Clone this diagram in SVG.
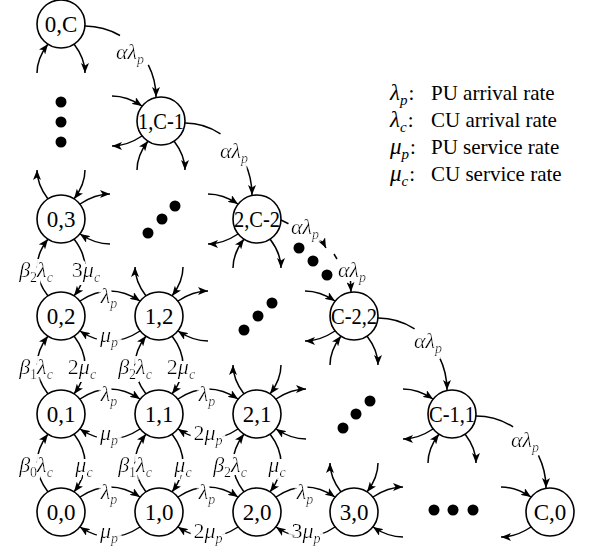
<svg xmlns="http://www.w3.org/2000/svg" width="590" height="552" viewBox="0 0 590 552">
<defs>
<marker id="ah" viewBox="0 0 10 8" refX="10" refY="4" markerWidth="10" markerHeight="8" markerUnits="userSpaceOnUse" orient="auto"><path d="M0,0 L10,4 L0,8 L2.5,4 z" fill="#000"/></marker>
<filter id="halo" x="-30%" y="-40%" width="160%" height="180%">
<feMorphology in="SourceAlpha" operator="dilate" radius="4 3" result="d"/>
<feFlood flood-color="#fff"/>
<feComposite in2="d" operator="in" result="w"/>
<feMerge><feMergeNode in="w"/><feMergeNode in="SourceGraphic"/></feMerge>
</filter>
<style>
.ln{fill:none;stroke:#000;stroke-width:1.5}
.ar{marker-end:url(#ah)}
.nd circle{fill:#fff;stroke:#000;stroke-width:1.6}
.nd text{font-family:"Liberation Serif","Times New Roman",serif;font-size:23px;text-anchor:middle;fill:#000}
.lb{font-family:"Liberation Serif","Times New Roman",serif;font-size:22px;text-anchor:middle;fill:#000;filter:url(#halo)}
.lg{font-family:"Liberation Serif","Times New Roman",serif;font-size:21px;fill:#000}
.i{font-style:italic}
.g{font-size:23px}
.s{font-size:14px}
.s2{font-size:15px}
.dot{fill:#000}
</style>
</defs>
<rect width="590" height="552" fill="#fff"/>
<g id="connectors">
<path class="ln ar" d="M80,301 Q110,281 140,301"/>
<path class="ln ar" d="M140,331 Q110,351 80,331"/>
<path class="ln ar" d="M80,399 Q110,379 140,399"/>
<path class="ln ar" d="M140,429 Q110,449 80,429"/>
<path class="ln ar" d="M178,399 Q208,379 238,399"/>
<path class="ln ar" d="M238,429 Q208,449 178,429"/>
<path class="ln ar" d="M80,497 Q110,477 140,497"/>
<path class="ln ar" d="M140,527 Q110,547 80,527"/>
<path class="ln ar" d="M178,497 Q208,477 238,497"/>
<path class="ln ar" d="M238,527 Q208,547 178,527"/>
<path class="ln ar" d="M276,497 Q305.5,477 335,497"/>
<path class="ln ar" d="M335,527 Q305.5,547 276,527"/>
<path class="ln ar" d="M48,492 Q26,463 48,434"/>
<path class="ln ar" d="M74,434 Q96,463 74,492"/>
<path class="ln ar" d="M48,394 Q26,365 48,336"/>
<path class="ln ar" d="M74,336 Q96,365 74,394"/>
<path class="ln ar" d="M48,296 Q26,267.5 48,239"/>
<path class="ln ar" d="M74,239 Q96,267.5 74,296"/>
<path class="ln ar" d="M146,492 Q124,463 146,434"/>
<path class="ln ar" d="M172,434 Q194,463 172,492"/>
<path class="ln ar" d="M146,394 Q124,365 146,336"/>
<path class="ln ar" d="M172,336 Q194,365 172,394"/>
<path class="ln ar" d="M244,492 Q222,463 244,434"/>
<path class="ln ar" d="M270,434 Q292,463 270,492"/>
<path class="ln ar" d="M48,199 Q37,184.5 37,170"/>
<path class="ln ar" d="M85,170 Q85,184.5 74,199"/>
<path class="ln ar" d="M80,204 Q95,194 110,194"/>
<path class="ln ar" d="M110,244 Q95,244 80,234"/>
<path class="ln ar" d="M146,296 Q135,281.5 135,267"/>
<path class="ln ar" d="M183,267 Q183,281.5 172,296"/>
<path class="ln ar" d="M178,301 Q193,291 208,291"/>
<path class="ln ar" d="M208,341 Q193,341 178,331"/>
<path class="ln ar" d="M244,394 Q233,379.5 233,365"/>
<path class="ln ar" d="M281,365 Q281,379.5 270,394"/>
<path class="ln ar" d="M276,399 Q291,389 306,389"/>
<path class="ln ar" d="M306,439 Q291,439 276,429"/>
<path class="ln ar" d="M341,492 Q330,477.5 330,463"/>
<path class="ln ar" d="M378,463 Q378,477.5 367,492"/>
<path class="ln ar" d="M373,497 Q388,487 403,487"/>
<path class="ln ar" d="M403,537 Q388,537 373,527"/>
<path class="ln ar" d="M112,96 Q127,96 142,106"/>
<path class="ln ar" d="M142,136 Q127,146 112,146"/>
<path class="ln ar" d="M137,170 Q137,155.5 148,141"/>
<path class="ln ar" d="M174,141 Q185,155.5 185,170"/>
<path class="ln ar" d="M208,194 Q223,194 238,204"/>
<path class="ln ar" d="M238,234 Q223,244 208,244"/>
<path class="ln ar" d="M233,268 Q233,253.5 244,239"/>
<path class="ln ar" d="M270,239 Q281,253.5 281,268"/>
<path class="ln ar" d="M305,291 Q320,291 335,301"/>
<path class="ln ar" d="M335,331 Q320,341 305,341"/>
<path class="ln ar" d="M330,365 Q330,350.5 341,336"/>
<path class="ln ar" d="M367,336 Q378,350.5 378,365"/>
<path class="ln ar" d="M403,389 Q418,389 433,399"/>
<path class="ln ar" d="M433,429 Q418,439 403,439"/>
<path class="ln ar" d="M428,463 Q428,448.5 439,434"/>
<path class="ln ar" d="M465,434 Q476,448.5 476,463"/>
<path class="ln ar" d="M501,487 Q516,487 531,497"/>
<path class="ln ar" d="M531,527 Q516,537 501,537"/>
<path class="ln ar" d="M37,73 Q37,58.5 48,44"/>
<path class="ln ar" d="M74,44 Q85,58.5 85,73"/>
<path class="ln" d="M85,26 A71,71 0 0 1 120,35.5"/>
<path class="ln ar" d="M148.3,64.8 A71,71 0 0 1 156,97"/>
<path class="ln" d="M185,123 A67,72 0 0 1 220.5,133.9"/>
<path class="ln ar" d="M244.7,162.3 A67,72 0 0 1 252,195"/>
<path class="ln" d="M281,220 L289,224"/>
<path class="ln ar" d="M318,238 Q323,242 326,248"/>
<path class="ln" d="M334,254 L337,259"/>
<path class="ln ar" d="M350.5,281 L351,292"/>
<path class="ln" d="M378,318 A69,72 0 0 1 414.6,328.9"/>
<path class="ln ar" d="M439.5,357.3 A69,72 0 0 1 447,390"/>
<path class="ln" d="M476,416 A70,72 0 0 1 513.1,426.9"/>
<path class="ln ar" d="M538.4,455.3 A70,72 0 0 1 546,488"/>
</g>
<g id="nodes">
<g id="n-0-C" class="nd"><circle cx="61" cy="24" r="24"/><text x="61" y="32">0,C</text></g>
<g id="n-1-C-1" class="nd"><circle cx="161" cy="121" r="24"/><text x="161" y="129" textLength="46" lengthAdjust="spacingAndGlyphs">1,C-1</text></g>
<g id="n-2-C-2" class="nd"><circle cx="257" cy="219" r="24"/><text x="257" y="227" textLength="46" lengthAdjust="spacingAndGlyphs">2,C-2</text></g>
<g id="n-C-2-2" class="nd"><circle cx="354" cy="316" r="24"/><text x="354" y="324" textLength="46" lengthAdjust="spacingAndGlyphs">C-2,2</text></g>
<g id="n-C-1-1" class="nd"><circle cx="452" cy="414" r="24"/><text x="452" y="422" textLength="46" lengthAdjust="spacingAndGlyphs">C-1,1</text></g>
<g id="n-C-0" class="nd"><circle cx="550" cy="512" r="24"/><text x="550" y="520">C,0</text></g>
<g id="n-0-3" class="nd"><circle cx="61" cy="219" r="24"/><text x="61" y="227">0,3</text></g>
<g id="n-0-2" class="nd"><circle cx="61" cy="316" r="24"/><text x="61" y="324">0,2</text></g>
<g id="n-1-2" class="nd"><circle cx="159" cy="316" r="24"/><text x="159" y="324">1,2</text></g>
<g id="n-0-1" class="nd"><circle cx="61" cy="414" r="24"/><text x="61" y="422">0,1</text></g>
<g id="n-1-1" class="nd"><circle cx="159" cy="414" r="24"/><text x="159" y="422">1,1</text></g>
<g id="n-2-1" class="nd"><circle cx="257" cy="414" r="24"/><text x="257" y="422">2,1</text></g>
<g id="n-0-0" class="nd"><circle cx="61" cy="512" r="24"/><text x="61" y="520">0,0</text></g>
<g id="n-1-0" class="nd"><circle cx="159" cy="512" r="24"/><text x="159" y="520">1,0</text></g>
<g id="n-2-0" class="nd"><circle cx="257" cy="512" r="24"/><text x="257" y="520">2,0</text></g>
<g id="n-3-0" class="nd"><circle cx="354" cy="512" r="24"/><text x="354" y="520">3,0</text></g>
</g>
<g id="labels">
<text class="lb" x="109" y="303"><tspan class="i">λ</tspan><tspan class="s i" dy="5">p</tspan></text>
<text class="lb" x="109" y="401"><tspan class="i">λ</tspan><tspan class="s i" dy="5">p</tspan></text>
<text class="lb" x="207" y="401"><tspan class="i">λ</tspan><tspan class="s i" dy="5">p</tspan></text>
<text class="lb" x="109" y="499"><tspan class="i">λ</tspan><tspan class="s i" dy="5">p</tspan></text>
<text class="lb" x="207" y="499"><tspan class="i">λ</tspan><tspan class="s i" dy="5">p</tspan></text>
<text class="lb" x="305" y="499"><tspan class="i">λ</tspan><tspan class="s i" dy="5">p</tspan></text>
<text class="lb" x="109" y="342"><tspan class="i">μ</tspan><tspan class="s i" dy="5">p</tspan></text>
<text class="lb" x="109" y="440"><tspan class="i">μ</tspan><tspan class="s i" dy="5">p</tspan></text>
<text class="lb" x="208" y="440">2<tspan class="i">μ</tspan><tspan class="s i" dy="5">p</tspan></text>
<text class="lb" x="109" y="538"><tspan class="i">μ</tspan><tspan class="s i" dy="5">p</tspan></text>
<text class="lb" x="208" y="538">2<tspan class="i">μ</tspan><tspan class="s i" dy="5">p</tspan></text>
<text class="lb" x="306" y="538">3<tspan class="i">μ</tspan><tspan class="s i" dy="5">p</tspan></text>
<text class="lb" x="36" y="472"><tspan class="i">β</tspan><tspan class="s" dy="5">0</tspan><tspan class="i" dy="-5">λ</tspan><tspan class="s i" dy="5">c</tspan></text>
<text class="lb" x="36" y="374"><tspan class="i">β</tspan><tspan class="s" dy="5">1</tspan><tspan class="i" dy="-5">λ</tspan><tspan class="s i" dy="5">c</tspan></text>
<text class="lb" x="36" y="277"><tspan class="i">β</tspan><tspan class="s" dy="5">2</tspan><tspan class="i" dy="-5">λ</tspan><tspan class="s i" dy="5">c</tspan></text>
<text class="lb" x="135" y="472"><tspan class="i">β</tspan><tspan class="s" dy="5">1</tspan><tspan class="i" dy="-5">λ</tspan><tspan class="s i" dy="5">c</tspan></text>
<text class="lb" x="135" y="374"><tspan class="i">β</tspan><tspan class="s" dy="5">2</tspan><tspan class="i" dy="-5">λ</tspan><tspan class="s i" dy="5">c</tspan></text>
<text class="lb" x="230" y="472"><tspan class="i">β</tspan><tspan class="s" dy="5">2</tspan><tspan class="i" dy="-5">λ</tspan><tspan class="s i" dy="5">c</tspan></text>
<text class="lb" x="84" y="472"><tspan class="i">μ</tspan><tspan class="s i" dy="5">c</tspan></text>
<text class="lb" x="82" y="374">2<tspan class="i">μ</tspan><tspan class="s i" dy="5">c</tspan></text>
<text class="lb" x="86" y="277">3<tspan class="i">μ</tspan><tspan class="s i" dy="5">c</tspan></text>
<text class="lb" x="183" y="472"><tspan class="i">μ</tspan><tspan class="s i" dy="5">c</tspan></text>
<text class="lb" x="181" y="374">2<tspan class="i">μ</tspan><tspan class="s i" dy="5">c</tspan></text>
<text class="lb" x="277" y="472"><tspan class="i">μ</tspan><tspan class="s i" dy="5">c</tspan></text>
<text class="lb" x="130" y="59"><tspan class="i">αλ</tspan><tspan class="s i" dy="5">p</tspan></text>
<text class="lb" x="234" y="158"><tspan class="i">αλ</tspan><tspan class="s i" dy="5">p</tspan></text>
<text class="lb" x="305" y="234"><tspan class="i">αλ</tspan><tspan class="s i" dy="5">p</tspan></text>
<text class="lb" x="352" y="277"><tspan class="i">αλ</tspan><tspan class="s i" dy="5">p</tspan></text>
<text class="lb" x="428" y="348"><tspan class="i">αλ</tspan><tspan class="s i" dy="5">p</tspan></text>
<text class="lb" x="525" y="447"><tspan class="i">αλ</tspan><tspan class="s i" dy="5">p</tspan></text>
</g>
<g id="dots">
<circle class="dot" cx="61" cy="102" r="5.5"/><circle class="dot" cx="61" cy="122" r="5.5"/><circle class="dot" cx="61" cy="142" r="5.5"/>
<circle class="dot" cx="148" cy="233" r="5.5"/><circle class="dot" cx="162" cy="219" r="5.5"/><circle class="dot" cx="175" cy="206" r="5.5"/>
<circle class="dot" cx="244" cy="330" r="5.5"/><circle class="dot" cx="258" cy="316" r="5.5"/><circle class="dot" cx="272" cy="303" r="5.5"/>
<circle class="dot" cx="299" cy="248" r="5.5"/><circle class="dot" cx="313" cy="261" r="5.5"/><circle class="dot" cx="327" cy="275" r="5.5"/>
<circle class="dot" cx="343" cy="428" r="5.5"/><circle class="dot" cx="356" cy="414" r="5.5"/><circle class="dot" cx="370" cy="401" r="5.5"/>
<circle class="dot" cx="434" cy="510" r="5.5"/><circle class="dot" cx="453" cy="510" r="5.5"/><circle class="dot" cx="473" cy="510" r="5.5"/>
</g>
<g id="legend">
<text class="lg" x="390" y="100"><tspan class="i g">λ</tspan><tspan class="s2 i" dy="5">p</tspan><tspan dy="-5" dx="1">:</tspan><tspan x="431">PU arrival rate</tspan></text>
<text class="lg" x="390" y="127"><tspan class="i g">λ</tspan><tspan class="s2 i" dy="5">c</tspan><tspan dy="-5" dx="1">:</tspan><tspan x="431">CU arrival rate</tspan></text>
<text class="lg" x="390" y="154"><tspan class="i g">μ</tspan><tspan class="s2 i" dy="5">p</tspan><tspan dy="-5" dx="1">:</tspan><tspan x="431">PU service rate</tspan></text>
<text class="lg" x="390" y="181"><tspan class="i g">μ</tspan><tspan class="s2 i" dy="5">c</tspan><tspan dy="-5" dx="1">:</tspan><tspan x="431">CU service rate</tspan></text>
</g>
</svg>
